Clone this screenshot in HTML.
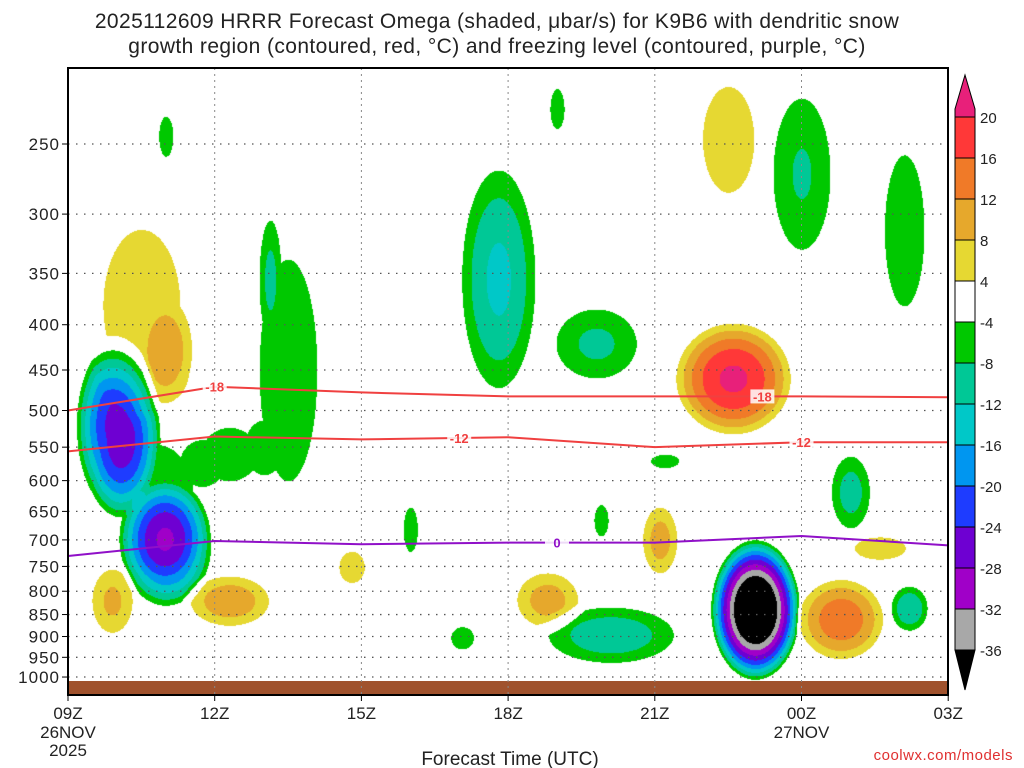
<!DOCTYPE html>
<html><head><meta charset="utf-8"><style>
body{margin:0;background:#fff;width:1024px;height:768px;overflow:hidden;position:relative;font-family:"Liberation Sans",sans-serif}
#cv{position:absolute;left:68px;top:68px}
svg{position:absolute;left:0;top:0}
</style></head><body>
<canvas id="cv" width="880" height="627"></canvas>
<svg id="sv" width="1024" height="768"></svg>
<script>
const pressureTicks=[250,300,350,400,450,500,550,600,650,700,750,800,850,900,950,1000];
const timeTicks=["09Z","12Z","15Z","18Z","21Z","00Z","03Z"];
// blobs: [hour, pressure, radiusHours, radiusLogP, peak µbar/s]
const blobT=[1.0,2.0,1.8,4.5,4.1,3.3,2.0,8.8,10.8,10.0,15.0,17.1,14.05,11.1,7.0,8.06,10.9,12.2,16.0,17.2,1.5,2.1,13.6,13.5,0.9,3.3,5.8,9.8,12.1,15.8,16.6];
const blobP=[520,710,620,450,340,560,245,355,420,228,270,313,839,896,681,903,665,570,618,836,380,440,460,247,820,820,751,818,700,860,715];
const blobRT=[0.9,1.0,1.3,0.9,0.25,1.0,0.25,0.9,1.1,0.25,0.8,0.7,0.95,1.6,0.25,0.4,0.25,0.5,0.5,0.45,1.2,0.6,1.3,0.8,0.55,1.0,0.45,0.8,0.45,1.0,0.9];
const blobRP=[0.24,0.17,0.22,0.44,0.18,0.12,0.09,0.34,0.12,0.09,0.27,0.34,0.19,0.09,0.1,0.05,0.07,0.03,0.12,0.07,0.3,0.15,0.16,0.21,0.11,0.08,0.07,0.09,0.11,0.12,0.05];
const blobPeak=[-26,-25,-6,-7,-6,-6,-6,-13,-9,-6,-8.5,-6,-46,-11,-6,-6,-6,-6,-10,-12,7,7,21,7,9,11,6,10,10,15,6];
const lineHours=[0,3,6,9,12,15,18];
const dgz18=[500,470,477,482,482,482,483];
const dgz12=[556,535,539,536,550,543,543];
const frz0=[730,702,708,705,705,693,710];
const cbLabels=[20,16,12,8,4,-4,-8,-12,-16,-20,-24,-28,-32,-36];
const cbColors=["#ff3838","#f07a28","#e6a82c","#e6d832","#ffffff","#00c800","#00c896","#00c8c8","#0096f0","#1e3cff","#6e00d2","#a000c8","#a8a8a8"];

const X0=68,X1=948,Y0=68,Y1=695,PXH=48.9,LP=384.5;
const xs=t=>X0+t*PXH;
const ys=p=>144+(Math.log(p)-Math.log(250))*LP;
function color(v){
 if(v>=20)return"#e8207a";if(v>=16)return"#ff3838";if(v>=12)return"#f07a28";if(v>=8)return"#e6a82c";if(v>=4)return"#e6d832";
 if(v>-4)return null;if(v>-8)return"#00c800";if(v>-12)return"#00c896";if(v>-16)return"#00c8c8";if(v>-20)return"#0096f0";
 if(v>-24)return"#1e3cff";if(v>-28)return"#6e00d2";if(v>-32)return"#a000c8";if(v>-36)return"#a8a8a8";return"#000000";}
const cv=document.getElementById('cv'),cx=cv.getContext('2d');
const img=cx.createImageData(880,627);
function hex(c){return[parseInt(c.substr(1,2),16),parseInt(c.substr(3,2),16),parseInt(c.substr(5,2),16)];}
const cache={};
for(let py=0;py<627;py++){
 const lp=Math.log(250)+(py+Y0-144)/LP;
 for(let px=0;px<880;px++){
  const t=px/PXH;let v=0;
  for(let i=0;i<blobT.length;i++){
   const dx=(t-blobT[i])/blobRT[i],dy=(lp-Math.log(blobP[i]))/blobRP[i];
   const d=dx*dx+dy*dy; if(d<1)v+=blobPeak[i]*(1-d);
  }
  const c=color(v);const k=(py*880+px)*4;
  let rgb=[255,255,255];if(c){rgb=cache[c]||(cache[c]=hex(c));}
  img.data[k]=rgb[0];img.data[k+1]=rgb[1];img.data[k+2]=rgb[2];img.data[k+3]=255;
 }
}
cx.putImageData(img,0,0);

const sv=document.getElementById('sv');const NS="http://www.w3.org/2000/svg";
function el(tag,at,txt){const e=document.createElementNS(NS,tag);for(const k in at)e.setAttribute(k,at[k]);if(txt!==undefined)e.textContent=txt;sv.appendChild(e);return e;}
let g=el('rect',{x:X0,y:681,width:X1-X0,height:14,fill:'#a0522d'});


pressureTicks.forEach(p=>{const y=ys(p);
 let l=el('line',{x1:X0,x2:X1,y1:y,y2:y,stroke:'#555','stroke-dasharray':'1.5 6.5','stroke-width':1.3});
 
 
 el('line',{x1:X0-6,x2:X0,y1:y,y2:y,stroke:'#000'});
 let t=el('text',{x:X0-8,y:y+6,'text-anchor':'end','font-size':17,fill:'#222','letter-spacing':'1'},p);
 
 
});
timeTicks.forEach((s,i)=>{const x=xs(i*3);
 let l=el('line',{x1:x,x2:x,y1:Y0,y2:Y1,stroke:'#888','stroke-dasharray':'2 4','stroke-width':1});
 
 
 el('line',{x1:x,x2:x,y1:Y1,y2:Y1+6,stroke:'#000'});
 let t=el('text',{x:x,y:719,'text-anchor':'middle','font-size':17,fill:'#222'},s);
 
 
});
[['26NOV',X0,738],['2025',X0,756],['27NOV',xs(15),738]].forEach(a=>{
 let t=el('text',{x:a[1],y:a[2],'text-anchor':'middle','font-size':17,fill:'#222'},a[0]);
 
 
});
function drawLine(arr,col,lab,labHours,name){
 const pts=lineHours.map((h,i)=>xs(h)+','+ys(arr[i])).join(' ');
 let pl=el('polyline',{points:pts,fill:'none',stroke:col,'stroke-width':2});
 
 
 labHours.forEach(h=>{
  let j=0;while(j<lineHours.length-2&&lineHours[j+1]<h)j++;
  const f=(h-lineHours[j])/(lineHours[j+1]-lineHours[j]);
  const p=arr[j]+(arr[j+1]-arr[j])*f;
  el('rect',{x:xs(h)-12,y:ys(p)-7,width:24,height:14,fill:'#fff','fill-opacity':0.85});
  let t=el('text',{x:xs(h),y:ys(p)+5,'text-anchor':'middle','font-size':13,'font-weight':'bold',fill:col},lab);
  
  
 });
}
drawLine(dgz18,'#f04040','-18',[3.0,14.2],'dgz-minus18-contour');
drawLine(dgz12,'#f04040','-12',[8.0,15.0],'dgz-minus12-contour');
drawLine(frz0,'#9010c8','0',[10.0],'freezing-level-contour');
let fr=el('rect',{x:X0,y:Y0,width:X1-X0,height:Y1-Y0,fill:'none',stroke:'#000','stroke-width':2});


const CX=955,CW=20,CT=117,CS=41;
let tri=el('polygon',{points:`${CX},${CT-8} ${CX+CW/2},75 ${CX+CW},${CT-8} ${CX+CW},${CT} ${CX},${CT}`,fill:'#e8207a',stroke:'#000'});


cbColors.forEach((c,i)=>{let r=el('rect',{x:CX,y:CT+i*CS,width:CW,height:CS,fill:c,stroke:'#000'});
 
 });
const cbEnd=CT+cbColors.length*CS;
let tri2=el('polygon',{points:`${CX},${cbEnd} ${CX+CW},${cbEnd} ${CX+CW/2},690`,fill:'#000',stroke:'#000'});


cbLabels.forEach((v,i)=>{let t=el('text',{x:980,y:CT+i*CS+6,'font-size':15,fill:'#222'},v);
 
 });
[['2025112609 HRRR Forecast Omega (shaded, μbar/s) for K9B6 with dendritic snow',28],['growth region (contoured, red, \u00B0C) and freezing level (contoured, purple, \u00B0C)',53]].forEach(a=>{
 let t=el('text',{x:497,y:a[1],'text-anchor':'middle','font-size':21,fill:'#222','letter-spacing':'0.4'},a[0]);
 
 });
let xt=el('text',{x:510,y:765,'text-anchor':'middle','font-size':19,fill:'#222'},'Forecast Time (UTC)');


let cr=el('text',{x:1013,y:760,'text-anchor':'end','font-size':15,fill:'#e03030','letter-spacing':'0.5'},'coolwx.com/models');


</script></body></html>
